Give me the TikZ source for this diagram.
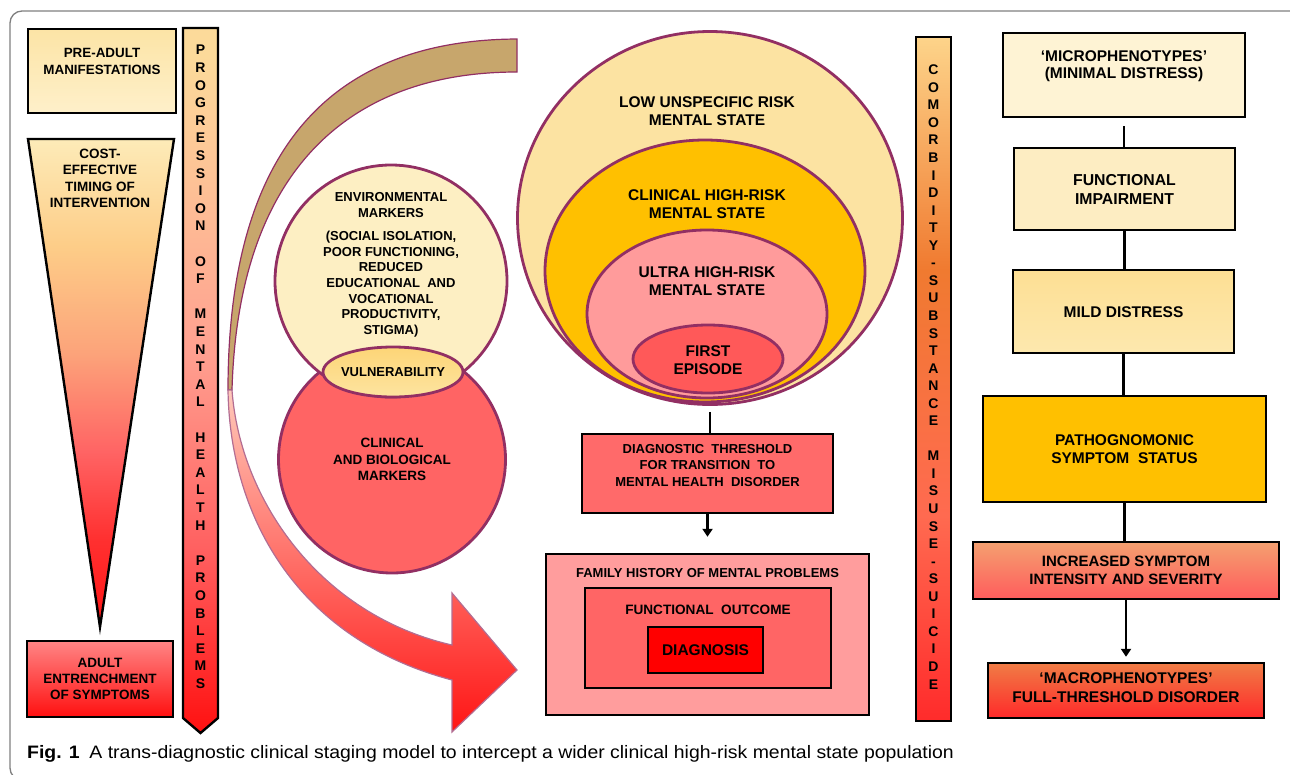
\documentclass[tikz,border=0pt]{standalone}
\usepackage{fontspec}
\setmainfont{Liberation Sans}
\usetikzlibrary{arrows.meta,shapes.geometric}
\newcommand\myfs[2]{\fontsize{#1}{#2}\selectfont}
\definecolor{pur}{HTML}{922F63}
\definecolor{framecol}{HTML}{7F7F7F}
\definecolor{preTop}{HTML}{FCE4A6}
\definecolor{preBot}{HTML}{FEF0CA}
\definecolor{adultTop}{HTML}{FF8585}
\definecolor{adultBot}{HTML}{FF1010}
\definecolor{envC}{HTML}{FDEFC3}
\definecolor{clinC}{HTML}{FF6464}
\definecolor{vulTop}{HTML}{FDD577}
\definecolor{vulBot}{HTML}{FDE4A0}
\definecolor{lowC}{HTML}{FCE3A2}
\definecolor{chrC}{HTML}{FFC000}
\definecolor{uhrC}{HTML}{FF9B9B}
\definecolor{firstC}{HTML}{FF5959}
\definecolor{diagC}{HTML}{FF6A6A}
\definecolor{famC}{HTML}{FF9D9D}
\definecolor{funcOutC}{HTML}{FF6565}
\definecolor{dxC}{HTML}{FF0000}
\definecolor{microC}{HTML}{FEF3D4}
\definecolor{funcImpC}{HTML}{FDEDC2}
\definecolor{mildTop}{HTML}{FDDF94}
\definecolor{mildBot}{HTML}{FDE8AE}
\definecolor{pathoC}{HTML}{FFC000}
\definecolor{incTop}{HTML}{F4A070}
\definecolor{incMid}{HTML}{FFA4A4}
\definecolor{incBot}{HTML}{FF5C5C}
\definecolor{macTop}{HTML}{F07C45}
\definecolor{macMid}{HTML}{FF9C9C}
\definecolor{macBot}{HTML}{FF2A2A}
\definecolor{bandtan}{HTML}{C7A66C}
\definecolor{arrTop}{HTML}{FFC9BA}
\definecolor{arrMid}{HTML}{FFA0A0}
\definecolor{arrBot}{HTML}{FF1515}
% shadings
\definecolor{tA}{HTML}{FF1515}
\definecolor{tB}{HTML}{FF3030}
\definecolor{tC}{HTML}{FF6464}
\definecolor{tD}{HTML}{FCA37A}
\definecolor{tE}{HTML}{FDCD88}
\definecolor{tF}{HTML}{FDEBB8}
\pgfdeclareverticalshading{triShade}{100bp}{color(0bp)=(tA); color(25bp)=(tA); color(34bp)=(tB); color(43bp)=(tC); color(53bp)=(tD); color(64bp)=(tE); color(75bp)=(tF); color(100bp)=(tF)}
\definecolor{pA}{HTML}{FF1010}
\definecolor{pB}{HTML}{FF6060}
\definecolor{pC}{HTML}{FFA090}
\definecolor{pD}{HTML}{FCDA9A}
\pgfdeclareverticalshading{progShade}{100bp}{color(0bp)=(pA); color(25bp)=(pA); color(38bp)=(pB); color(52bp)=(pC); color(73bp)=(pD); color(100bp)=(pD)}
\definecolor{cA}{HTML}{FF2B2B}
\definecolor{cB}{HTML}{FF6A50}
\definecolor{cC}{HTML}{F07A30}
\definecolor{cD}{HTML}{FDD48A}
\pgfdeclareverticalshading{comShade}{100bp}{color(0bp)=(cA); color(25bp)=(cA); color(40bp)=(cB); color(58bp)=(cC); color(75bp)=(cD); color(100bp)=(cD)}
\begin{document}
\begin{tikzpicture}[x=1pt,y=-1pt,
  bx/.style={draw=black, line width=2.4pt, inner sep=0pt, rectangle},
  txt/.style 2 args={align=center, inner sep=0pt, font=\bfseries\myfs{#1}{#2}},
  ring/.style={draw=pur, line width=2.8pt, inner sep=0pt},
  conn/.style={draw=black, line width=2.2pt},
  tip/.style={-{Triangle[width=10pt,length=8pt]}}]
\useasboundingbox (0,0) rectangle (1290,774);
\begin{scope}
\clip (0,0) rectangle (1290,774);
\draw[framecol, line width=1.3pt, rounded corners=12pt] (1302,780) -- (10,780) -- (10,11) -- (1302,11) -- cycle;
\end{scope}

% ---------- left column ----------
\node[bx, minimum width=148pt, minimum height=84pt, top color=preTop, bottom color=preBot] (pre) at (102,71) {};
\node[txt={13.4}{17}] (preT) at (102,61.5) {PRE-ADULT\\MANIFESTATIONS};

\shadedraw[shading=triShade, line width=2.4pt, line join=miter] (28,139) -- (174,139) -- (100,627) -- cycle;
\node[txt={13.5}{16.4}] (triT) at (100,178.5) {COST-\\EFFECTIVE\\TIMING OF\\INTERVENTION};

\node[bx, minimum width=146pt, minimum height=76pt, top color=adultTop, bottom color=adultBot] (adult) at (100,679) {};
\node[txt={13.5}{16}] (adultT) at (100,679) {ADULT\\ENTRENCHMENT\\OF SYMPTOMS};

% progression bar
\shadedraw[shading=progShade, line width=2.4pt] (183,28) -- (218,28) -- (218,718) -- (200.5,733) -- (183,718) -- cycle;
\node[txt={14}{17.6}] (progT) at (200.5,367) {P\\R\\O\\G\\R\\E\\S\\S\\I\\O\\N\\\mbox{}\\O\\F\\\mbox{}\\M\\E\\N\\T\\A\\L\\\mbox{}\\H\\E\\A\\L\\T\\H\\\mbox{}\\P\\R\\O\\B\\L\\E\\M\\S};

% comorbidity bar
\shadedraw[shading=comShade, line width=2.4pt] (916,37) rectangle (951,721);
\node[txt={14}{17.55}] (comT) at (933.5,377) {C\\O\\M\\O\\R\\B\\I\\D\\I\\T\\Y\\-\\S\\U\\B\\S\\T\\A\\N\\C\\E\\\mbox{}\\M\\I\\S\\U\\S\\E\\-\\S\\U\\I\\C\\I\\D\\E};

% ---------- curved band / arrow ----------
\filldraw[fill=bandtan, draw=pur, line width=1.2pt] (517,39) .. controls (330,40) and (228,150) .. (228,390) -- (232,390) .. controls (238,175) and (345,72) .. (517,72) -- cycle;
\shadedraw[top color=arrTop, middle color=arrMid, bottom color=arrBot, draw=pur!70, line width=1.2pt] (228,390) .. controls (230,520) and (300,640) .. (452,680) -- (452,732) -- (517,670) -- (452,593) -- (452,645) .. controls (320,615) and (240,500) .. (232,390) -- cycle;

% ---------- marker circles ----------
\node[ring, circle, minimum size=227pt, fill=clinC] (clin) at (392,459.5) {};
\node[ring, circle, minimum size=232pt, fill=envC] (env) at (391,281) {};
\node[ring, ellipse, minimum width=140pt, minimum height=50pt, top color=vulTop, bottom color=vulBot] (vul) at (393,372) {};
\node[txt={13}{15.67}] (envT) at (391,265) {ENVIRONMENTAL\\MARKERS\\[7.5pt](SOCIAL ISOLATION,\\POOR FUNCTIONING,\\REDUCED\\EDUCATIONAL\ \ AND\\VOCATIONAL\\PRODUCTIVITY,\\STIGMA)};
\node[txt={13}{16}] (vulT) at (393,372) {VULNERABILITY};
\node[txt={13.5}{16.5}] (clinT) at (392,459.5) {CLINICAL\\AND BIOLOGICAL\\MARKERS};

% ---------- nested risk states ----------
\node[ring, ellipse, minimum width=385pt, minimum height=373pt, fill=lowC] (low) at (710,218) {};
\node[ring, ellipse, minimum width=320pt, minimum height=262pt, fill=chrC] (chr) at (705,271) {};
\node[ring, ellipse, minimum width=240pt, minimum height=168pt, fill=uhrC] (uhr) at (707,314) {};
\node[ring, ellipse, minimum width=150pt, minimum height=68pt, fill=firstC] (first) at (708,359) {};
\node[txt={15.5}{18}] (lowT) at (707,111) {LOW UNSPECIFIC RISK\\MENTAL STATE};
\node[txt={15.5}{18}] (chrT) at (707,204) {CLINICAL HIGH-RISK\\MENTAL STATE};
\node[txt={15.5}{18}] (uhrT) at (707,281) {ULTRA HIGH-RISK\\MENTAL STATE};
\node[txt={15.5}{18}] (firstT) at (708,360) {FIRST\\EPISODE};

% ---------- diagnostic threshold / outcome ----------
\node[bx, minimum width=251pt, minimum height=79pt, fill=diagC] (diag) at (707.5,473.5) {};
\node[txt={13}{16.5}] (diagT) at (707.5,465.5) {DIAGNOSTIC\ \ THRESHOLD\\FOR TRANSITION\ \ TO\\MENTAL HEALTH\ \ DISORDER};
\node[bx, minimum width=323pt, minimum height=161pt, fill=famC] (fam) at (707.5,634.5) {};
\node[txt={13}{16}] (famT) at (707.5,573) {FAMILY HISTORY OF MENTAL PROBLEMS};
\node[bx, minimum width=246pt, minimum height=100pt, fill=funcOutC] (fout) at (708,638) {};
\node[txt={13.6}{16}] (foutT) at (708,610) {FUNCTIONAL\ \ OUTCOME};
\node[bx, minimum width=115pt, minimum height=46pt, fill=dxC] (dx) at (705.5,650) {};
\node[txt={15.5}{18}] (dxT) at (705.5,650) {DIAGNOSIS};

\draw[conn, shorten <=6pt] (low.south) -- (low.south |- diag.north);
\draw[conn, tip, shorten >=16pt] (diag.south) -- (diag.south |- fam.north);

% ---------- right column ----------
\node[bx, minimum width=242pt, minimum height=84pt, fill=microC] (micro) at (1124,75) {};
\node[txt={15.5}{17}] (microT) at (1124,66.5) {‘MICROPHENOTYPES’\\(MINIMAL DISTRESS)};
\node[bx, minimum width=221pt, minimum height=82pt, fill=funcImpC] (fimp) at (1124.5,189) {};
\node[txt={15.8}{18.5}] (fimpT) at (1124.5,189.5) {FUNCTIONAL\\IMPAIRMENT};
\node[bx, minimum width=221pt, minimum height=83pt, top color=mildTop, bottom color=mildBot] (mild) at (1123.5,311.5) {};
\node[txt={15.5}{18}] (mildT) at (1123.5,312) {MILD DISTRESS};
\node[bx, minimum width=283pt, minimum height=106pt, fill=pathoC] (patho) at (1124.5,449) {};
\node[txt={15.5}{18}] (pathoT) at (1124.5,449) {PATHOGNOMONIC\\SYMPTOM\ \ STATUS};
\node[bx, minimum width=306pt, minimum height=57pt, top color=incTop, middle color=incMid, bottom color=incBot] (inc) at (1126,570.5) {};
\node[txt={15}{18}] (incT) at (1126,570) {INCREASED SYMPTOM\\INTENSITY AND SEVERITY};
\node[bx, minimum width=276pt, minimum height=55pt, top color=macTop, middle color=macMid, bottom color=macBot] (macro) at (1126,690.5) {};
\node[txt={15.5}{19}] (macroT) at (1126,687.5) {‘MACROPHENOTYPES’\\FULL-THRESHOLD DISORDER};

\draw[conn, shorten <=8pt] (micro.south) -- (micro.south |- fimp.north);
\draw[conn] (fimp.south) -- (fimp.south |- mild.north);
\draw[conn] (mild.south) -- (mild.south |- patho.north);
\draw[conn] (patho.south) -- (patho.south |- inc.north);
\draw[conn, tip, shorten >=5pt] (inc.south) -- (inc.south |- macro.north);

% ---------- caption ----------
\node[anchor=base west, inner sep=0pt, font=\myfs{18}{21}] (cap) at (27,758) {\scalebox{1.08}[1]{\textbf{Fig. 1}\hspace{9pt}A trans-diagnostic clinical staging model to intercept a wider clinical high-risk mental state population}};
\end{tikzpicture}
\end{document}
